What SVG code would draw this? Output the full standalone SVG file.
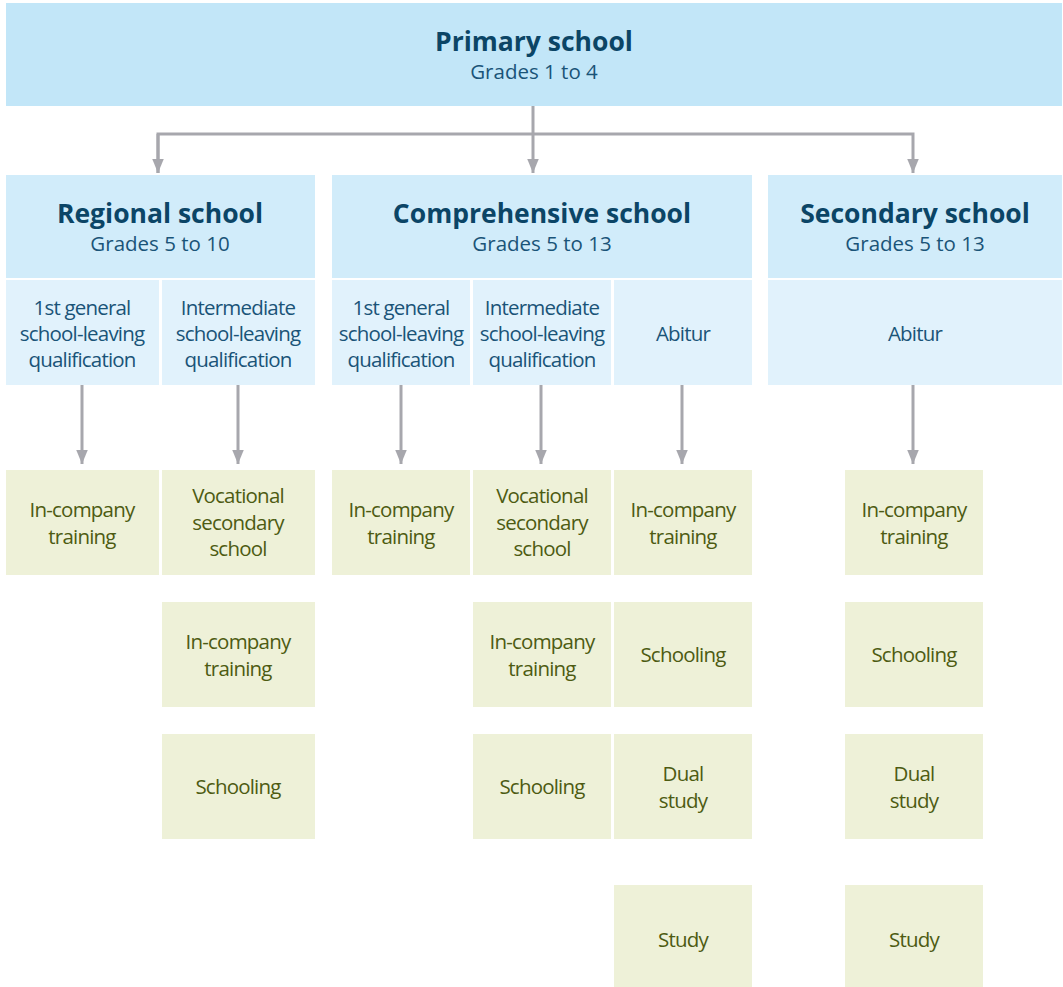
<svg xmlns="http://www.w3.org/2000/svg" width="1063" height="987" viewBox="0 0 1063 987">
<defs>
<marker id="arr" markerWidth="14" markerHeight="17" refX="17" refY="7" orient="auto" markerUnits="userSpaceOnUse" viewBox="0 0 17 14">
<path d="M0,0 L17,7 L0,14 Z" fill="#a7a7ad"/>
</marker>
</defs>
<style>
.p{fill:#c2e6f8}
.h{fill:#d1ecfa}
.s{fill:#e1f2fc}
.g{fill:#eef1d8}
text{font-family:"Open Sans","Noto Sans","Liberation Sans",sans-serif;text-anchor:middle}
.t{font-weight:bold;font-size:26.5px;fill:#0b4566}
.st{font-size:20.5px;fill:#1a5478}
.q{font-size:20.5px;fill:#1a5478;letter-spacing:-0.8px}
.gt{font-size:20.5px;fill:#4d5b12;letter-spacing:-0.8px}
.c{stroke:#a7a7ad;stroke-width:3;fill:none}
</style>
<rect width="1063" height="987" fill="#fff"/>
<g id="primary"><rect class="p" x="6" y="3" width="1056" height="103"/><text class="t" x="534" y="51">Primary school</text><text class="st" x="534" y="79">Grades 1 to 4</text></g>
<g id="regional"><rect class="h" x="6" y="175" width="309" height="103"/><text class="t" x="160" y="223">Regional school</text><text class="st" x="160" y="251">Grades 5 to 10</text></g>
<g id="comprehensive"><rect class="h" x="332" y="175" width="420" height="103"/><text class="t" x="542" y="223">Comprehensive school</text><text class="st" x="542" y="251">Grades 5 to 13</text></g>
<g id="secondary"><rect class="h" x="768" y="175" width="294" height="103"/><text class="t" x="915" y="223">Secondary school</text><text class="st" x="915" y="251">Grades 5 to 13</text></g>
<g id="r-q1"><rect class="s" x="6" y="280" width="153" height="105"/><text class="q" x="82" y="315">1st general</text><text class="q" x="82" y="341">school-leaving</text><text class="q" x="82" y="367">qualification</text></g>
<g id="r-q2"><rect class="s" x="162" y="280" width="153" height="105"/><text class="q" x="238" y="315">Intermediate</text><text class="q" x="238" y="341">school-leaving</text><text class="q" x="238" y="367">qualification</text></g>
<g id="c-q1"><rect class="s" x="332" y="280" width="138" height="105"/><text class="q" x="401" y="315">1st general</text><text class="q" x="401" y="341">school-leaving</text><text class="q" x="401" y="367">qualification</text></g>
<g id="c-q2"><rect class="s" x="473" y="280" width="138" height="105"/><text class="q" x="542" y="315">Intermediate</text><text class="q" x="542" y="341">school-leaving</text><text class="q" x="542" y="367">qualification</text></g>
<g id="c-q3"><rect class="s" x="614" y="280" width="138" height="105"/><text class="q" x="683" y="341">Abitur</text></g>
<g id="s-q"><rect class="s" x="768" y="280" width="294" height="105"/><text class="q" x="915" y="341">Abitur</text></g>
<g id="g1a"><rect class="g" x="6" y="470" width="153" height="105"/><text class="gt" x="82" y="517">In-company</text><text class="gt" x="82" y="544">training</text></g>
<g id="g2a"><rect class="g" x="162" y="470" width="153" height="105"/><text class="gt" x="238" y="503">Vocational</text><text class="gt" x="238" y="530">secondary</text><text class="gt" x="238" y="556">school</text></g>
<g id="g2b"><rect class="g" x="162" y="602" width="153" height="105"/><text class="gt" x="238" y="649">In-company</text><text class="gt" x="238" y="676">training</text></g>
<g id="g2c"><rect class="g" x="162" y="734" width="153" height="105"/><text class="gt" x="238" y="794">Schooling</text></g>
<g id="g3a"><rect class="g" x="332" y="470" width="138" height="105"/><text class="gt" x="401" y="517">In-company</text><text class="gt" x="401" y="544">training</text></g>
<g id="g4a"><rect class="g" x="473" y="470" width="138" height="105"/><text class="gt" x="542" y="503">Vocational</text><text class="gt" x="542" y="530">secondary</text><text class="gt" x="542" y="556">school</text></g>
<g id="g4b"><rect class="g" x="473" y="602" width="138" height="105"/><text class="gt" x="542" y="649">In-company</text><text class="gt" x="542" y="676">training</text></g>
<g id="g4c"><rect class="g" x="473" y="734" width="138" height="105"/><text class="gt" x="542" y="794">Schooling</text></g>
<g id="g5a"><rect class="g" x="614" y="470" width="138" height="105"/><text class="gt" x="683" y="517">In-company</text><text class="gt" x="683" y="544">training</text></g>
<g id="g5b"><rect class="g" x="614" y="602" width="138" height="105"/><text class="gt" x="683" y="662">Schooling</text></g>
<g id="g5c"><rect class="g" x="614" y="734" width="138" height="105"/><text class="gt" x="683" y="781">Dual</text><text class="gt" x="683" y="808">study</text></g>
<g id="g5d"><rect class="g" x="614" y="885" width="138" height="102"/><text class="gt" x="683" y="947">Study</text></g>
<g id="g6a"><rect class="g" x="845" y="470" width="138" height="105"/><text class="gt" x="914" y="517">In-company</text><text class="gt" x="914" y="544">training</text></g>
<g id="g6b"><rect class="g" x="845" y="602" width="138" height="105"/><text class="gt" x="914" y="662">Schooling</text></g>
<g id="g6c"><rect class="g" x="845" y="734" width="138" height="105"/><text class="gt" x="914" y="781">Dual</text><text class="gt" x="914" y="808">study</text></g>
<g id="g6d"><rect class="g" x="845" y="885" width="138" height="102"/><text class="gt" x="914" y="947">Study</text></g>
<g id="connectors">
<path class="c" d="M533,106 V173" marker-end="url(#arr)"/>
<path class="c" d="M158,173 V134 H913 V173" marker-end="url(#arr)"/>
<path class="c" d="M158,134 V173" marker-end="url(#arr)"/>
<path class="c" d="M82,385 V464" marker-end="url(#arr)"/>
<path class="c" d="M238,385 V464" marker-end="url(#arr)"/>
<path class="c" d="M401,385 V464" marker-end="url(#arr)"/>
<path class="c" d="M541,385 V464" marker-end="url(#arr)"/>
<path class="c" d="M682,385 V464" marker-end="url(#arr)"/>
<path class="c" d="M913,385 V464" marker-end="url(#arr)"/>
</g>
</svg>
